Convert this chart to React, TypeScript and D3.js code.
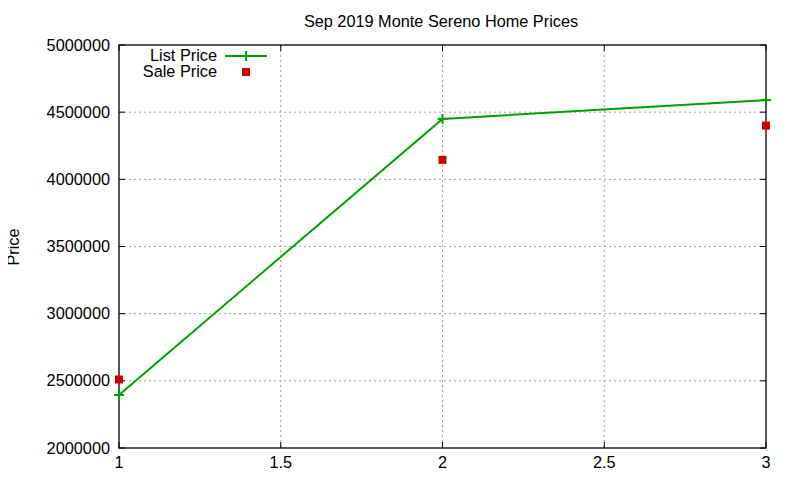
import React, { useEffect, useRef } from 'react';
import * as d3 from 'd3';

const xValues = [1, 2, 3];
const listPrices = [2395000, 4450000, 4590000];
const salePrices = [2510000, 4145000, 4400000];
const yTicks = [2000000, 2500000, 3000000, 3500000, 4000000, 4500000, 5000000];
const xTicks = [1, 1.5, 2, 2.5, 3];

const App: React.FC = () => {
  const ref = useRef<SVGSVGElement | null>(null);

  useEffect(() => {
    if (!ref.current) return;
    const svg = d3.select(ref.current);
    svg.selectAll('*').remove();

    const W = 800, H = 480;
    const left = 119, right = 766, top = 45, bottom = 448;
    const font = 'Liberation Sans, Arial, sans-serif';
    const fs = '16.3px';

    svg.attr('width', W).attr('height', H).style('background', '#fff');

    const x = d3.scaleLinear().domain([1, 3]).range([left, right]);
    const y = d3.scaleLinear().domain([2000000, 5000000]).range([bottom, top]);

    // grid
    const grid = svg.append('g');
    yTicks.slice(1, -1).forEach(t => {
      grid.append('line')
        .attr('x1', left).attr('x2', right)
        .attr('y1', y(t)).attr('y2', y(t))
        .attr('stroke', '#a0a0a0').attr('stroke-width', 1)
        .attr('stroke-dasharray', '2,3');
    });
    xTicks.slice(1, -1).forEach(t => {
      grid.append('line')
        .attr('x1', x(t)).attr('x2', x(t))
        .attr('y1', top).attr('y2', bottom)
        .attr('stroke', '#a0a0a0').attr('stroke-width', 1)
        .attr('stroke-dasharray', '2,3');
    });

    // tick marks (mirrored)
    const ticks = svg.append('g').attr('stroke', '#000').attr('stroke-width', 1);
    yTicks.forEach(t => {
      ticks.append('line').attr('x1', left).attr('x2', left + 6).attr('y1', y(t)).attr('y2', y(t));
      ticks.append('line').attr('x1', right).attr('x2', right - 6).attr('y1', y(t)).attr('y2', y(t));
    });
    xTicks.forEach(t => {
      ticks.append('line').attr('x1', x(t)).attr('x2', x(t)).attr('y1', bottom).attr('y2', bottom - 6);
      ticks.append('line').attr('x1', x(t)).attr('x2', x(t)).attr('y1', top).attr('y2', top + 6);
    });

    // frame
    svg.append('rect')
      .attr('x', left).attr('y', top)
      .attr('width', right - left).attr('height', bottom - top)
      .attr('fill', 'none').attr('stroke', '#000').attr('stroke-width', 1.3);

    // tick labels
    yTicks.forEach(t => {
      svg.append('text')
        .attr('x', left - 9).attr('y', y(t) + 5.5)
        .attr('text-anchor', 'end')
        .style('font-family', font).style('font-size', fs)
        .text(String(t));
    });
    xTicks.forEach(t => {
      svg.append('text')
        .attr('x', x(t)).attr('y', bottom + 20)
        .attr('text-anchor', 'middle')
        .style('font-family', font).style('font-size', fs)
        .text(String(t));
    });

    // title & axis label
    svg.append('text')
      .attr('x', 441).attr('y', 27)
      .attr('text-anchor', 'middle')
      .style('font-family', font).style('font-size', fs)
      .text('Sep 2019 Monte Sereno Home Prices');
    svg.append('text')
      .attr('transform', `translate(19, 247) rotate(-90)`)
      .attr('text-anchor', 'middle')
      .style('font-family', font).style('font-size', fs)
      .text('Price');

    const green = '#00a000';
    const red = '#cc0000';

    // list price line
    const line = d3.line<number>()
      .x((_, i) => x(xValues[i]))
      .y(d => y(d));
    svg.append('path')
      .datum(listPrices)
      .attr('d', line)
      .attr('fill', 'none')
      .attr('stroke', green)
      .attr('stroke-width', 2);

    const plus = (g: d3.Selection<SVGGElement, unknown, null, undefined>, cx: number, cy: number) => {
      g.append('line').attr('x1', cx - 5).attr('x2', cx + 5).attr('y1', cy).attr('y2', cy)
        .attr('stroke', green).attr('stroke-width', 2);
      g.append('line').attr('x1', cx).attr('x2', cx).attr('y1', cy - 5).attr('y2', cy + 5)
        .attr('stroke', green).attr('stroke-width', 2);
    };
    const marks = svg.append('g');
    listPrices.forEach((v, i) => plus(marks, x(xValues[i]), y(v)));

    salePrices.forEach((v, i) => {
      marks.append('rect')
        .attr('x', x(xValues[i]) - 4).attr('y', y(v) - 4)
        .attr('width', 8).attr('height', 8)
        .attr('fill', red);
    });

    // legend
    const lg = svg.append('g');
    lg.append('text')
      .attr('x', 217).attr('y', 61)
      .attr('text-anchor', 'end')
      .style('font-family', font).style('font-size', fs)
      .text('List Price');
    lg.append('line')
      .attr('x1', 225).attr('x2', 267).attr('y1', 56).attr('y2', 56)
      .attr('stroke', green).attr('stroke-width', 2);
    plus(lg, 246, 56);
    lg.append('text')
      .attr('x', 217).attr('y', 77)
      .attr('text-anchor', 'end')
      .style('font-family', font).style('font-size', fs)
      .text('Sale Price');
    lg.append('rect')
      .attr('x', 242).attr('y', 68).attr('width', 8).attr('height', 8)
      .attr('fill', red);
  }, []);

  return (
    <div style={{ margin: -8, width: 800, height: 480, overflow: 'hidden' }}>
      <svg ref={ref} style={{ display: 'block' }} />
    </div>
  );
};

export default App;
